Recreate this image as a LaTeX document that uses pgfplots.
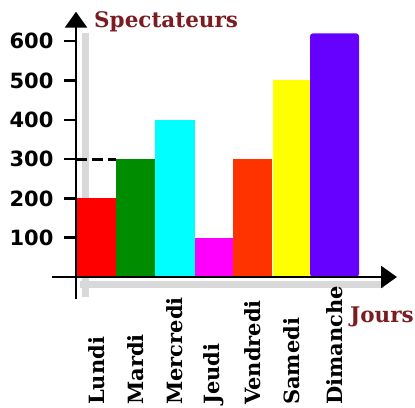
\documentclass[border=0pt]{standalone}
\usepackage{pgfplots}
\pgfplotsset{compat=1.18}
\usepackage{fontspec}
\setmainfont{DejaVu Serif}
\newfontfamily\ticksans{DejaVu Sans}
\usetikzlibrary{arrows.meta}
\definecolor{dred}{RGB}{122,28,34}
\definecolor{cLun}{RGB}{255,0,0}
\definecolor{cMar}{RGB}{0,140,0}
\definecolor{cMer}{RGB}{0,255,255}
\definecolor{cJeu}{RGB}{255,0,255}
\definecolor{cVen}{RGB}{255,51,0}
\definecolor{cSam}{RGB}{255,255,0}
\definecolor{cDim}{RGB}{102,0,255}
\begin{document}
\begin{tikzpicture}
\useasboundingbox (0,0) rectangle (415pt,-407pt);
\begin{axis}[
  at={(76pt,-277pt)}, anchor=origin,
  x=1pt, y=0.393pt,
  xmin=-24, xmax=321, ymin=-55, ymax=675,
  axis lines=middle,
  axis on top,
  clip=false,
  /pgf/number format/assume math mode=true,
  axis line style={line width=2.6pt, black, -{Triangle[length=16pt,width=22pt]}},
  ytick={100,200,300,400,500,600},
  yticklabel style={font=\ticksans\bfseries\fontsize{21}{21}\selectfont, anchor=east, xshift=-7pt},
  ytick style={line width=2.6pt, black},
  tick align=outside,
  major tick length=12pt,
  xtick={20.5,59.5,99,138,176.5,215.5,258.5},
  xticklabels={Lundi,Mardi,Mercredi,Jeudi,Vendredi,Samedi,Dimanche},
  xtick style={draw=none},
  xticklabel style={font=\bfseries\fontsize{21}{21}\selectfont, yshift=-116pt, rotate=90, anchor=west, inner sep=0pt},
  ylabel={Spectateurs}, xlabel={Jours},
  every axis y label/.style={at={(axis cs:18,636)}, anchor=base west, font=\bfseries\fontsize{21.5}{21.5}\selectfont, text=dred, inner sep=0pt},
  every axis x label/.style={at={(axis cs:274,-117)}, anchor=base west, font=\bfseries\fontsize{21.5}{21.5}\selectfont, text=dred, inner sep=0pt},
]
% shadows of the axes
\draw[black!15, line width=7pt] (axis cs:9,-50) -- (axis cs:9,620);
\draw[black!15, line width=7pt] (axis cs:4,-20) -- (axis cs:308,-20);
% bars
\addplot[ybar, bar width=39, fill=cLun, draw=none] coordinates {(20.5,200)};
\addplot[ybar, bar width=39, fill=cMar, draw=none] coordinates {(59.5,300)};
\addplot[ybar, bar width=40, fill=cMer, draw=none] coordinates {(99,400)};
\addplot[ybar, bar width=38, fill=cJeu, draw=none] coordinates {(138,100)};
\addplot[ybar, bar width=39, fill=cVen, draw=none] coordinates {(176.5,300)};
\addplot[ybar, bar width=37, fill=cSam, draw=none] coordinates {(215.5,500)};
\addplot[ybar, bar width=49, fill=cDim, draw=none, rounded corners=3pt] coordinates {(258.5,620)};
% dashed reference line at 300
\addplot[black, line width=3pt, dash pattern=on 11pt off 5pt] coordinates {(0,300) (40,300)};
\end{axis}
\end{tikzpicture}
\end{document}
